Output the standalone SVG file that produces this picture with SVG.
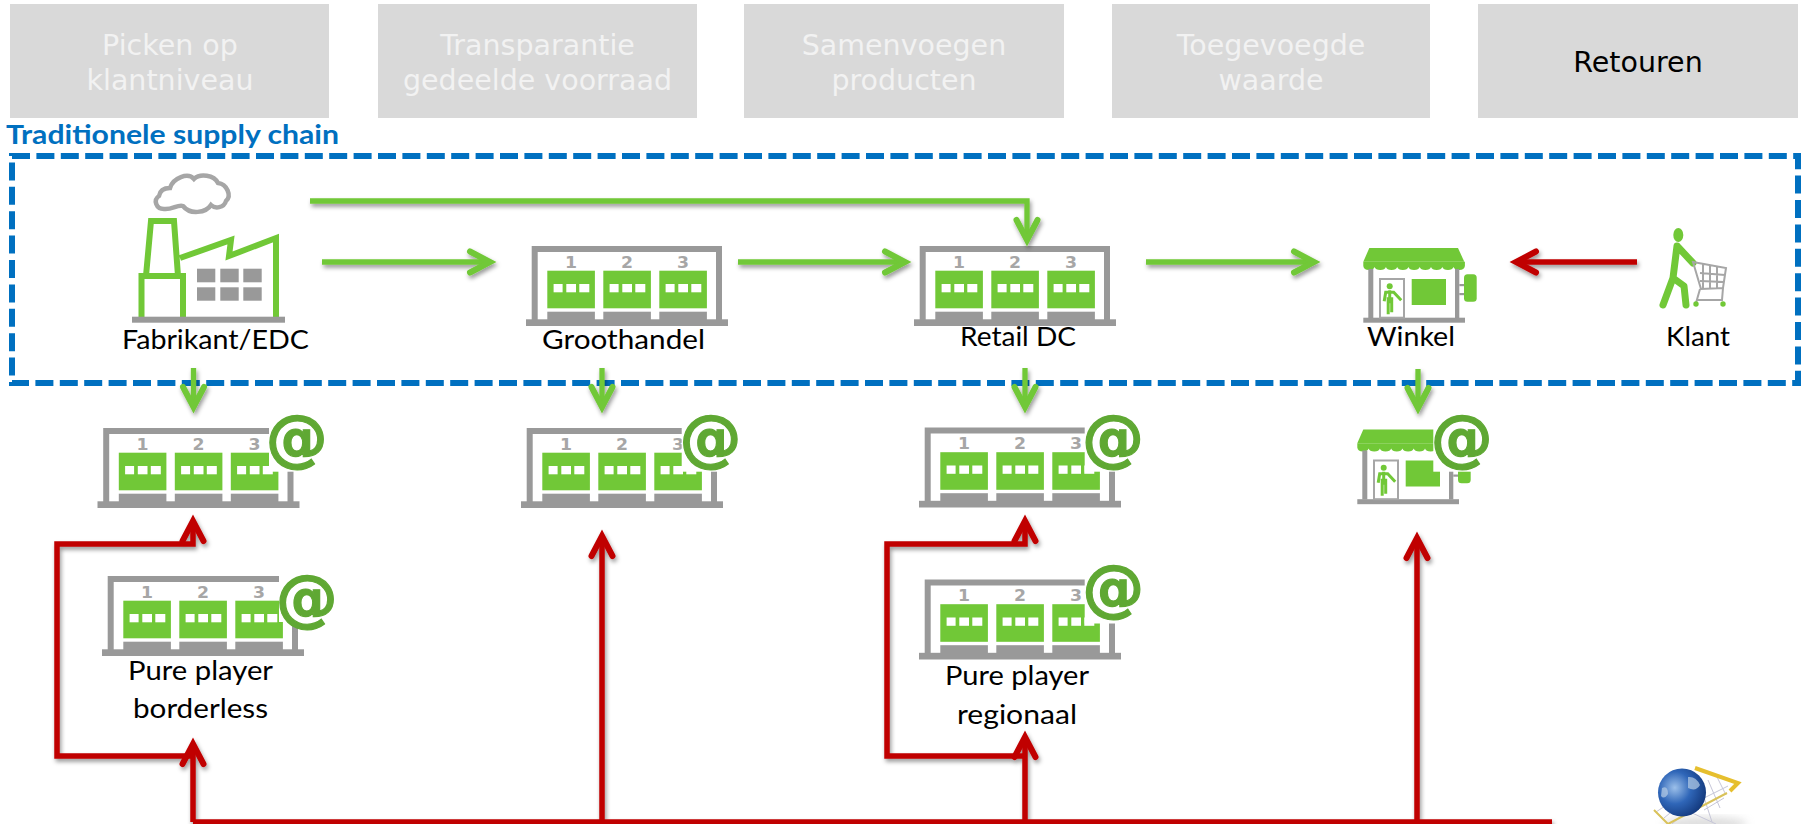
<svg xmlns="http://www.w3.org/2000/svg" width="1807" height="824" viewBox="0 0 1807 824">
<style>
.box{fill:#d9d9d9}
.bt{font-family:"DejaVu Sans",sans-serif;font-size:28.5px;fill:#f2f2f2;text-anchor:middle}
.lb{font-family:"Lato",sans-serif;font-size:27.500px;fill:#000}
.g{fill:#71c837}
.gy{fill:#999}
.w{fill:#fff}
.num{font-family:"DejaVu Sans",sans-serif;font-weight:bold;font-size:15px;fill:#a6a6a6;text-anchor:middle}
.at{font-family:"DejaVu Sans",sans-serif;font-weight:bold;font-size:62px;fill:#5fa833;stroke:#5fa833;stroke-width:1.200px;text-anchor:middle}
.cg{fill:none;stroke:#71c837;stroke-width:5.3;marker-end:url(#hg)}
.cr{fill:none;stroke:#c00000;stroke-width:5.5;marker-end:url(#hr)}
.nh{marker-end:none}
</style>
<defs>
<filter id="sh" x="-5%" y="-5%" width="110%" height="110%"><feDropShadow dx="1.5" dy="3" stdDeviation="2" flood-color="#000" flood-opacity=".4"/></filter>
<filter id="soft" x="-20%" y="-20%" width="140%" height="140%"><feGaussianBlur stdDeviation="4"/></filter>
<radialGradient id="glb" cx=".35" cy=".4" r=".75"><stop offset="0" stop-color="#9cc0ea"/><stop offset=".45" stop-color="#2f66b8"/><stop offset="1" stop-color="#0d2f70"/></radialGradient>
<marker id="hg" viewBox="-28 -16 38 32" refX="0" refY="0" markerWidth="38" markerHeight="32" markerUnits="userSpaceOnUse" orient="auto"><path d="M-20 -10.500L0 0L-20 10.500" fill="none" stroke="#71c837" stroke-width="6" stroke-linecap="round"/></marker>
<marker id="hr" viewBox="-28 -16 38 32" refX="0" refY="0" markerWidth="38" markerHeight="32" markerUnits="userSpaceOnUse" orient="auto"><path d="M-20 -10.500L0 0L-20 10.500" fill="none" stroke="#c00000" stroke-width="6" stroke-linecap="round"/></marker>
<g id="door">
<rect class="g" width="47.6" height="37.6"/>
<rect class="w" x="6.3" y="13.3" width="9" height="8.3"/><rect class="w" x="19" y="13.3" width="9.7" height="8.3"/><rect class="w" x="32" y="13.3" width="10" height="8.3"/>
<rect class="gy" y="41" width="47.6" height="9"/>
</g>
<g id="wh">
<path class="gy" d="M5.7 74V0H196V74H190V6H11.7V74Z"/>
<rect class="gy" y="73.3" width="202" height="6.7"/>
<use href="#door" x="21.3" y="24.7"/><use href="#door" x="77.3" y="24.7"/><use href="#door" x="133.3" y="24.7"/>
<text class="num" x="45" y="21.5" textLength="12" lengthAdjust="spacingAndGlyphs">1</text><text class="num" x="101" y="21.5" textLength="12" lengthAdjust="spacingAndGlyphs">2</text><text class="num" x="157" y="21.5" textLength="12" lengthAdjust="spacingAndGlyphs">3</text>
</g>
<g id="man">
<circle class="g" cx="0" cy="0" r="3"/>
<path d="M0 4V17M-1.500 11V28M2 11V26M-5.500 15L-4 6H4L11.500 14" fill="none" stroke="#71c837" stroke-width="3"/>
</g>
<g id="store">
<path class="g" d="M6 0H94.7L101 13.7H0Z"/>
<path class="g" d="M0 13.7H101.6V18Q101 22 96 22Q91 22 90.3 19Q89 22 84.7 22Q80 22 79 19Q78 22 73.4 22Q68.6 22 67.7 19Q66.8 22 62 22Q57.3 22 56.4 19Q55.5 22 50.8 22Q46 22 45.1 19Q44.2 22 39.5 22Q34.8 22 33.9 19Q33 22 28.2 22Q23.5 22 22.6 19Q21.7 22 17 22Q12.2 22 11.3 19Q10.4 22 5.6 22Q0.5 22 0 18Z"/>
<rect class="gy" x="5" y="21" width="5" height="49"/><rect class="gy" x="91.7" y="21" width="4.3" height="49"/>
<rect class="gy" y="69.7" width="101.7" height="5"/>
<rect x="16.7" y="31" width="24" height="38.7" fill="#fff" stroke="#a6a6a6" stroke-width="2"/>
<use href="#man" x="26.4" y="38.3"/>
<rect class="g" x="48.4" y="31" width="34.3" height="26"/>
<rect class="gy" x="96" y="36" width="5" height="2.2"/><rect class="gy" x="96" y="45" width="5" height="2.2"/>
<rect class="g" x="100.7" y="26.3" width="12.7" height="27.4" rx="3.5"/>
</g>
</defs>
<rect width="1807" height="824" fill="#fff"/>

<g id="tab-picken"><rect class="box" x="10" y="4" width="319" height="114"/><text class="bt" x="170" y="55">Picken op</text><text class="bt" x="170" y="90">klantniveau</text></g>
<g id="tab-transparantie"><rect class="box" x="378" y="4" width="319" height="114"/><text class="bt" x="537.500" y="55">Transparantie</text><text class="bt" x="537.500" y="90">gedeelde voorraad</text></g>
<g id="tab-samenvoegen"><rect class="box" x="744" y="4" width="320" height="114"/><text class="bt" x="904" y="55">Samenvoegen</text><text class="bt" x="904" y="90">producten</text></g>
<g id="tab-toegevoegde"><rect class="box" x="1112" y="4" width="318" height="114"/><text class="bt" x="1271" y="55">Toegevoegde</text><text class="bt" x="1271" y="90">waarde</text></g>
<g id="tab-retouren"><rect class="box" x="1478" y="4" width="320" height="114"/><text class="bt" x="1638" y="72" style="fill:#000">Retouren</text></g>

<g id="traditional-frame">
<text x="6" y="144" font-family="Lato,sans-serif" font-weight="bold" font-size="27px" fill="#0070c0" textLength="333" lengthAdjust="spacingAndGlyphs">Traditionele supply chain</text>
<rect x="12" y="156" width="1786" height="227" fill="none" stroke="#0070c0" stroke-width="6" stroke-dasharray="18 6.4"/>
</g>

<g id="node-fabrikant">
<path d="M164 209C156 209 153 200 159 196C160 190 165 188 170 188C173 178 188 172 194 179C200 173 214 175 218 183C227 184 232 196 226 201C224 208 215 209 211 205C206 213 190 215 183 206C178 204 172 210 164 209Z" fill="#fff" stroke="#a6a6a6" stroke-width="4.500"/>
<path d="M146 276L151 221H174L178 276M141.500 317V276H183V317M180 258L231 240L229 256L276 238V317" fill="none" stroke="#71c837" stroke-width="6"/>
<rect class="gy" x="132" y="316.700" width="153" height="6"/>
<rect class="gy" x="197" y="268.700" width="18.300" height="13.600"/><rect class="gy" x="220.300" y="268.700" width="18.400" height="13.600"/><rect class="gy" x="243.300" y="268.700" width="18.400" height="13.600"/>
<rect class="gy" x="197" y="287.300" width="18.300" height="13.400"/><rect class="gy" x="220.300" y="287.300" width="18.400" height="13.400"/><rect class="gy" x="243.300" y="287.300" width="18.400" height="13.400"/>
<text class="lb" x="122" y="349" textLength="187" lengthAdjust="spacingAndGlyphs">Fabrikant/EDC</text>
</g>
<g id="node-groothandel"><use href="#wh" x="526" y="246"/><text class="lb" x="542" y="349" textLength="163" lengthAdjust="spacingAndGlyphs">Groothandel</text></g>
<g id="node-retail-dc"><use href="#wh" x="914" y="246"/><text class="lb" x="960" y="346" textLength="116" lengthAdjust="spacingAndGlyphs">Retail DC</text></g>
<g id="node-winkel"><use href="#store" x="1363.300" y="248"/><text class="lb" x="1367" y="346" textLength="88" lengthAdjust="spacingAndGlyphs">Winkel</text></g>
<g id="node-klant">
<ellipse class="g" cx="1678.300" cy="235" rx="5" ry="7"/>
<path d="M1677 246L1673 278L1663 305M1673 278L1684 286L1686 305M1678 247L1693 263" fill="none" stroke="#71c837" stroke-width="7" stroke-linecap="round" stroke-linejoin="round"/>
<path d="M1693 262L1726 268L1723 288L1701 289ZM1700 273L1725 275M1700 281L1724 282M1703 264V289M1710 265V289M1717 266V289M1700 289L1696 303M1723 288L1722 300H1697" fill="none" stroke="#a6a6a6" stroke-width="2"/>
<circle class="g" cx="1696" cy="304" r="2.700"/><circle class="g" cx="1723" cy="304" r="2.700"/>
<text class="lb" x="1666" y="346" textLength="64" lengthAdjust="spacingAndGlyphs">Klant</text>
</g>
<g id="node-fabrikant-web"><use href="#wh" x="97.500" y="428"/>
<rect class="w" x="269" y="420" width="45" height="51.700"/><text class="at" x="296.700" y="459">@</text></g>
<g id="node-groothandel-web"><use href="#wh" x="521" y="428"/>
<rect class="w" x="681.700" y="420" width="45" height="51.700"/><text class="at" x="710.500" y="459">@</text></g>
<g id="node-retail-web"><use href="#wh" x="919" y="427.500"/>
<rect class="w" x="1084.700" y="420" width="45" height="51.700"/><text class="at" x="1113" y="459">@</text></g>
<g id="node-winkel-web">
<use href="#store" x="1357.300" y="429.500"/>
<rect class="w" x="1433.300" y="425" width="45" height="46.700"/>
<text class="at" x="1461.700" y="459">@</text>
</g>
<g id="node-pure-borderless"><use href="#wh" x="102" y="576"/>
<rect class="w" x="279" y="570" width="45" height="52"/><rect class="gy" x="292" y="631.700" width="6" height="18"/>
<text class="at" x="306.700" y="619">@</text>
<text class="lb" x="128" y="680" textLength="145" lengthAdjust="spacingAndGlyphs">Pure player</text>
<text class="lb" x="133" y="718" textLength="135" lengthAdjust="spacingAndGlyphs">borderless</text></g>
<g id="node-pure-regionaal"><use href="#wh" x="919" y="579.500"/>
<rect class="w" x="1084.700" y="572" width="45" height="51.500"/>
<text class="at" x="1113.300" y="609">@</text>
<text class="lb" x="945" y="685" textLength="144" lengthAdjust="spacingAndGlyphs">Pure player</text>
<text class="lb" x="957" y="724" textLength="120" lengthAdjust="spacingAndGlyphs">regionaal</text></g>

<g id="webshop-cart">
<ellipse cx="1705" cy="824" rx="42" ry="7" fill="#bbb" opacity=".5" filter="url(#soft)"/>
<path d="M1656 812L1668 804M1664 818L1676 808M1672 824L1686 812M1700 785L1712 822M1708 780L1720 808M1716 775L1726 795M1700 800L1728 786M1704 810L1724 798M1690 812L1716 824" fill="none" stroke="#c6c6d8" stroke-width="1"/>
<path d="M1654 810L1668 824M1668 824L1727 793" fill="none" stroke="#d9c25a" stroke-width="2"/>
<path d="M1695 768L1738 783L1730 791" fill="none" stroke="#e6bf2e" stroke-width="4"/>
<circle cx="1682" cy="792.500" r="24" fill="url(#glb)"/>
<path d="M1688 777Q1696 776 1700 785Q1696 792 1688 788ZM1662 788Q1668 785 1668 794Q1664 800 1661 796Z" fill="#b7cde6" opacity=".7"/>
</g>

<g id="connectors" filter="url(#sh)">
<path class="cg" d="M310 201H1027V240"/>
<path class="cg" d="M322 262H490"/>
<path class="cg" d="M738 262H905"/>
<path class="cg" d="M1146 262H1314"/>
<path class="cg" d="M193.500 368V407"/>
<path class="cg" d="M602 368V407"/>
<path class="cg" d="M1025 368V407"/>
<path class="cg" d="M1418 369V408"/>
<path class="cr" d="M1637 262H1516"/>
<path class="cr nh" d="M193 822H1552"/>
<path class="cr" d="M193 822V744"/>
<path class="cr" d="M193 756H57V544H193V521"/>
<path class="cr" d="M602 822V536"/>
<path class="cr" d="M1025 822V737"/>
<path class="cr" d="M1025 756H887V544H1025V521"/>
<path class="cr" d="M1417 822V538"/>
</g>
</svg>
